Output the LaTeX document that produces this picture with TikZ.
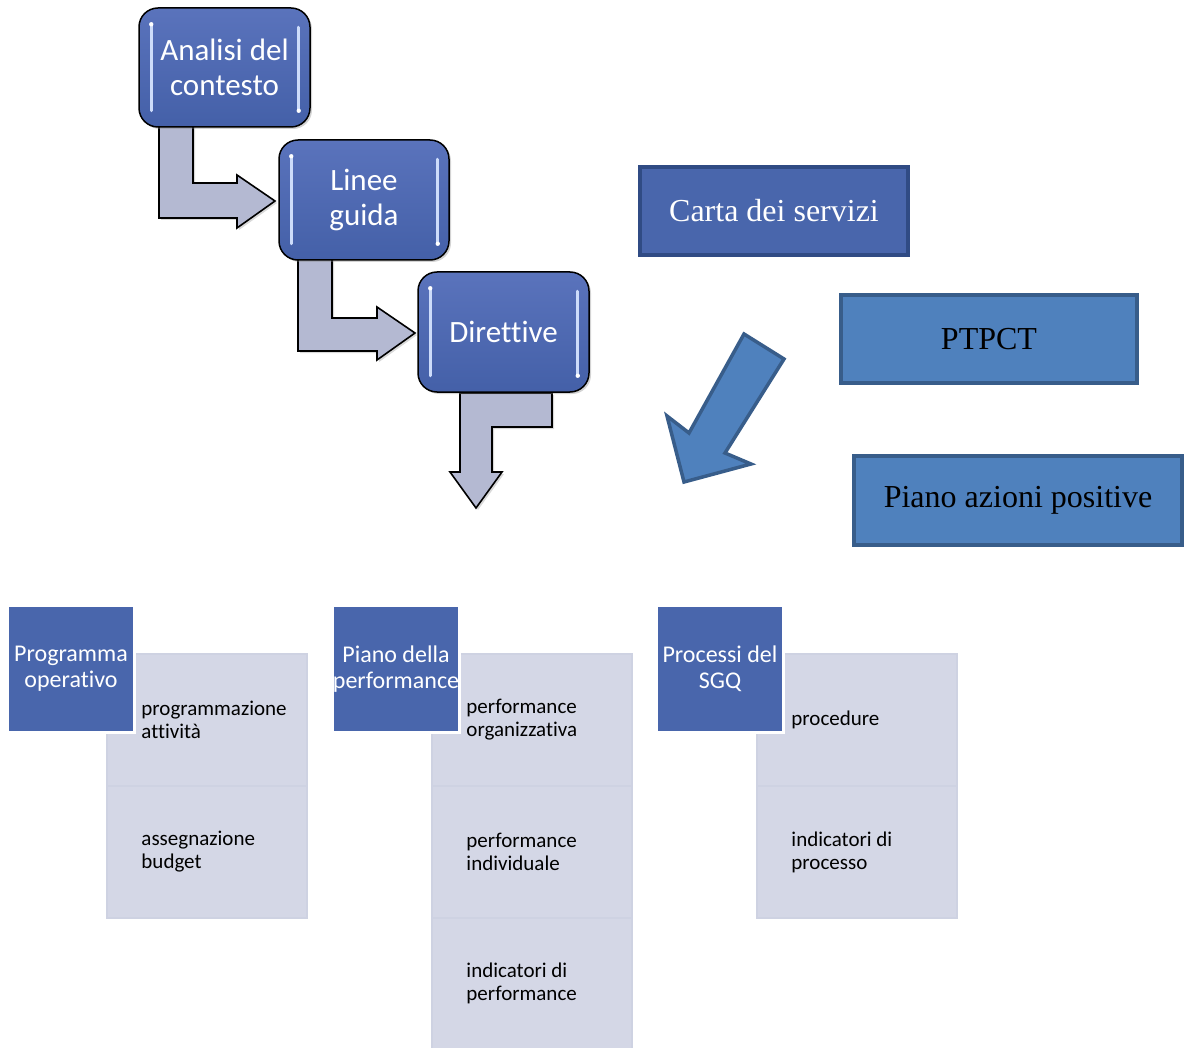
\documentclass[tikz,border=0pt]{standalone}
\usepackage{fontspec}
\setmainfont{Carlito}[Ligatures=NoCommon]
\newfontfamily\tnr{Liberation Serif}
\usetikzlibrary{calc,shadows}

\definecolor{boxtop}{RGB}{90,115,188}
\definecolor{boxbot}{RGB}{68,96,168}
\definecolor{hdr}{RGB}{73,102,172}
\definecolor{cellfill}{RGB}{212,215,230}
\definecolor{celledge}{RGB}{206,210,226}
\definecolor{arrfill}{RGB}{180,185,210}
\definecolor{accfill}{RGB}{79,129,189}
\definecolor{accedge}{RGB}{56,93,138}
\definecolor{cartaedge}{RGB}{48,75,132}
\definecolor{glint}{RGB}{205,220,250}

\tikzset{
  stagebox/.style={rectangle, rounded corners=19pt, draw=black, line width=1.5pt,
    top color=boxtop, bottom color=boxbot, text=white, align=center,
    font=\fontsize{31}{35}\selectfont, inner sep=0pt,
    drop shadow={shadow xshift=2pt, shadow yshift=-2pt, opacity=0.35}},
  bentarrow/.style={fill=arrfill, draw=black, line width=1.6pt, line join=miter,
    drop shadow={shadow xshift=2pt, shadow yshift=-2pt, opacity=0.3}},
  glintline/.style={draw=glint, line width=3pt, line cap=round},
  docbox/.style={rectangle, line width=4pt, inner sep=0pt,
    font=\tnr\fontsize{32}{38}\selectfont},
  hdrbox/.style={rectangle, fill=hdr, draw=white, line width=3pt, text=white,
    minimum width=127pt, minimum height=127pt, inner sep=0pt, align=center,
    font=\fontsize{24}{26}\selectfont},
  cellbox/.style={rectangle, fill=cellfill, draw=celledge, line width=1.5pt,
    minimum width=200pt, inner sep=0pt},
  celltext/.style={anchor=west, align=left, inner sep=0pt,
    font=\fontsize{21}{23}\selectfont},
}

\begin{document}
\begin{tikzpicture}[x=1pt, y=-1pt]
\useasboundingbox (0,0) rectangle (1185,1048);

% bent arrows linking the three stages
\draw[bentarrow] (159,122) -- (193,122) -- (193,183) -- (237,183) -- (237,175)
  -- (275,201) -- (237,228) -- (237,218) -- (159,218) -- cycle;
\draw[bentarrow] (298,255) -- (332,255) -- (332,318) -- (377,318) -- (377,307)
  -- (415,333) -- (377,360) -- (377,351) -- (298,351) -- cycle;
\draw[bentarrow] (460,393) -- (552,393) -- (552,427) -- (492,427) -- (492,472)
  -- (502,472) -- (476,508) -- (450,472) -- (460,472) -- cycle;

% stages
\node[stagebox, minimum width=171pt, minimum height=119pt] (b1) at (224.5,67.5)
  {Analisi del\\contesto};
\node[stagebox, minimum width=170pt, minimum height=120pt] (b2) at (364,200)
  {Linee\\guida};
\node[stagebox, minimum width=171pt, minimum height=120pt] (b3) at (503.5,332)
  {Direttive};

% glossy highlights on the stage boxes
\foreach \b in {b1,b2,b3}{
  \draw[glintline] ($(\b.north west)+(13,17)$) -- ($(\b.south west)+(13,-17)$);
  \draw[glintline] ($(\b.north east)+(-12,20)$) -- ($(\b.south east)+(-12,-17)$);
  \fill[white] ($(\b.north west)+(13,17)$) circle (2.2pt);
  \fill[white] ($(\b.south east)+(-12,-17)$) circle (2.2pt);
}

% reference documents
\node[docbox, fill=hdr, draw=cartaedge, text=white,
  minimum width=268pt, minimum height=88pt] (carta) at (774,211) {Carta dei servizi};
\node[docbox, fill=accfill, draw=accedge, text=black,
  minimum width=296pt, minimum height=88pt] (ptpct) at (989,339) {PTPCT};
\node[docbox, fill=accfill, draw=accedge, text=black,
  minimum width=328pt, minimum height=89pt] (piano) at (1018,500.5) {Piano azioni positive};

% diagonal arrow
\draw[fill=accfill, draw=accedge, line width=3.5pt, line join=miter]
  (744,334) -- (784,359) -- (725,453) -- (751,464) -- (684,482)
  -- (667,416) -- (689,433) -- cycle;

% Programma operativo
\node[cellbox, minimum height=132pt] (a1) at (207,720) {};
\node[cellbox, minimum height=132pt] (a2) at (207,852) {};
\node[celltext] (ta1) at ($(a1.west)+(35,0)$) {programmazione\\attività};
\node[celltext] (ta2) at ($(a2.west)+(35,0)$) {assegnazione\\budget};
\node[hdrbox] (ha) at (71,669) {Programma\\operativo};

% Piano della performance
\node[cellbox, minimum height=132pt] (p1) at (532,720) {};
\node[cellbox, minimum height=132pt] (p2) at (532,852) {};
\node[cellbox, minimum height=131pt] (p3) at (532,983.5) {};
\node[celltext] (tp1) at ($(p1.west)+(35,0)$) {performance\\organizzativa};
\node[celltext] (tp2) at ($(p2.west)+(35,0)$) {performance\\individuale};
\node[celltext] (tp3) at ($(p3.west)+(35,0)$) {indicatori di\\performance};
\node[hdrbox] (hp) at (396,669) {Piano della\\performance};

% Processi del SGQ
\node[cellbox, minimum height=132pt] (q1) at (857,720) {};
\node[cellbox, minimum height=132pt] (q2) at (857,852) {};
\node[celltext] (tq1) at ($(q1.west)+(35,0)$) {procedure};
\node[celltext] (tq2) at ($(q2.west)+(35,0)$) {indicatori di\\processo};
\node[hdrbox] (hq) at (720,669) {Processi del\\SGQ};
\end{tikzpicture}
\end{document}
